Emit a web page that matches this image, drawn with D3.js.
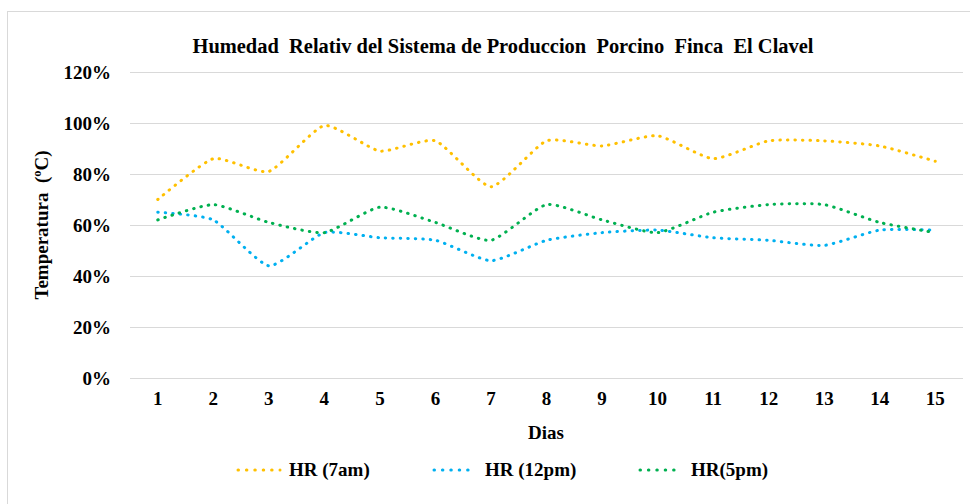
<!doctype html>
<html>

<head>
  <meta charset="utf-8">
  <title>Humedad Relativa</title>
  <style>
    body {
      margin: 0;
      background: #fff;
    }

    #chart text {
      font-family: "Liberation Serif", "Times New Roman", serif;
      font-weight: 700;
      fill: #000;
      white-space: pre;
    }
  </style>
</head>

<body>
  <div id="chart"></div>
  <script src="https://cdnjs.cloudflare.com/ajax/libs/d3/7.8.5/d3.min.js"></script>
  <script>
    // datos
    const dias = d3.range(1, 16);
    const yTicks = [0, 0.2, 0.4, 0.6, 0.8, 1.0, 1.2];
    const hr7am = [0.70, 0.86, 0.81, 0.99, 0.89, 0.93, 0.75, 0.93, 0.91, 0.95, 0.86, 0.93, 0.93, 0.91, 0.85];
    const hr12pm = [0.65, 0.62, 0.44, 0.57, 0.55, 0.54, 0.46, 0.54, 0.57, 0.58, 0.55, 0.54, 0.52, 0.58, 0.58];
    const hr5pm = [0.62, 0.68, 0.61, 0.57, 0.67, 0.61, 0.54, 0.68, 0.62, 0.57, 0.65, 0.68, 0.68, 0.61, 0.57];

    const series = [
      { name: 'HR (7am)', values: hr7am, color: '#FFC000' },
      { name: 'HR (12pm)', values: hr12pm, color: '#00B0F0' },
      { name: 'HR(5pm)', values: hr5pm, color: '#00B050' }
    ];

    const width = 970;
    const height = 504;
    const plot = { left: 130, right: 963, top: 72, bottom: 378 };

    const svg = d3.select('#chart').append('svg')
      .attr('width', width).attr('height', height);

    // borde del area del grafico
    svg.append('rect')
      .attr('x', 7.5).attr('y', 11.5)
      .attr('width', 975).attr('height', 500)
      .attr('fill', 'none').attr('stroke', '#d9d9d9');

    const x = d3.scaleBand().domain(dias).range([plot.left, plot.right]);
    const y = d3.scaleLinear().domain([0, 1.2]).range([plot.bottom, plot.top]);

    // lineas de cuadricula + etiquetas eje y
    const yAxis = svg.append('g')
      .attr('transform', `translate(${plot.left},0)`)
      .call(d3.axisLeft(y).tickValues(yTicks)
        .tickFormat(d3.format('.0%'))
        .tickSize(-(plot.right - plot.left)).tickPadding(19));
    yAxis.select('.domain').remove();
    yAxis.selectAll('line').attr('stroke', '#d9d9d9').attr('stroke-width', 1);
    yAxis.selectAll('text').style('font-size', '19px');

    // eje x
    const xAxis = svg.append('g')
      .attr('transform', `translate(0,${plot.bottom})`)
      .call(d3.axisBottom(x).tickSize(0).tickPadding(14));
    xAxis.select('.domain').remove();
    xAxis.selectAll('text').style('font-size', '19px');

    const line = d3.line()
      .x((d, i) => x(dias[i]) + x.bandwidth() / 2)
      .y(d => y(d))
      .curve(d3.curveCardinal.tension(0.45));

    series.forEach(s => {
      svg.append('path')
        .datum(s.values)
        .attr('d', line)
        .attr('fill', 'none')
        .attr('stroke', s.color)
        .attr('stroke-width', 3)
        .attr('stroke-linecap', 'round')
        .attr('stroke-dasharray', '0.5 7');
    });

    // titulo
    svg.append('text')
      .attr('x', 503).attr('y', 53)
      .attr('text-anchor', 'middle')
      .attr('textLength', 621).attr('lengthAdjust', 'spacingAndGlyphs')
      .style('font-size', '20px')
      .text('Humedad  Relativ del Sistema de Produccion  Porcino  Finca  El Clavel');

    // titulos de ejes
    svg.append('text')
      .attr('transform', 'translate(48,225) rotate(-90)')
      .attr('text-anchor', 'middle')
      .style('font-size', '19px')
      .text('Temperatura  (ºC)');

    svg.append('text')
      .attr('x', 546).attr('y', 439)
      .attr('text-anchor', 'middle')
      .style('font-size', '19px')
      .text('Dias');

    // leyenda
    const legendX = [238, 434, 640];
    const legend = svg.append('g').attr('transform', 'translate(0,470)');
    series.forEach((s, i) => {
      legend.append('line')
        .attr('x1', legendX[i]).attr('x2', legendX[i] + 42)
        .attr('y1', 0).attr('y2', 0)
        .attr('stroke', s.color)
        .attr('stroke-width', 3)
        .attr('stroke-linecap', 'round')
        .attr('stroke-dasharray', '0.5 7.9');
      legend.append('text')
        .attr('x', legendX[i] + 51).attr('y', 6)
        .style('font-size', '19px')
        .text(s.name);
    });
  </script>
</body>

</html>
